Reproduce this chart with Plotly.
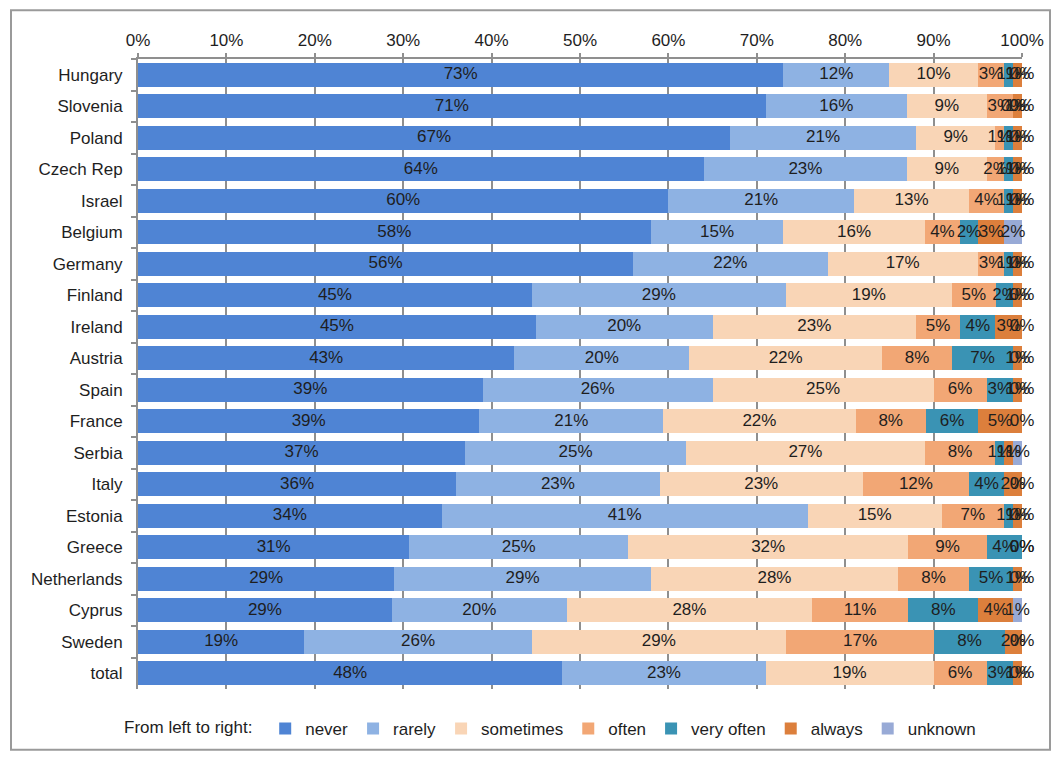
import plotly.graph_objects as go

countries = ["Hungary", "Slovenia", "Poland", "Czech Rep", "Israel", "Belgium",
             "Germany", "Finland", "Ireland", "Austria", "Spain", "France",
             "Serbia", "Italy", "Estonia", "Greece", "Netherlands", "Cyprus",
             "Sweden", "total"]

never      = [73, 71, 67, 64, 60, 58, 56, 45, 45, 43, 39, 39, 37, 36, 34, 31, 29, 29, 19, 48]
rarely     = [12, 16, 21, 23, 21, 15, 22, 29, 20, 20, 26, 21, 25, 23, 41, 25, 29, 20, 26, 23]
sometimes  = [10,  9,  9,  9, 13, 16, 17, 19, 23, 22, 25, 22, 27, 23, 15, 32, 28, 28, 29, 19]
often      = [ 3,  3,  1,  2,  4,  4,  3,  5,  5,  8,  6,  8,  8, 12,  7,  9,  8, 11, 17,  6]
very_often = [ 1,  0,  1,  1,  1,  2,  1,  2,  4,  7,  3,  6,  1,  4,  1,  4,  5,  8,  8,  3]
always     = [ 1,  1,  1,  1,  1,  3,  1,  1,  3,  1,  1,  5,  1,  2,  1,  0,  1,  4,  2,  1]
unknown    = [ 0,  0,  0,  0,  0,  2,  0,  0,  0,  0,  0,  0,  1,  0,  0,  0,  0,  1,  0,  0]

tick_vals = [0, 10, 20, 30, 40, 50, 60, 70, 80, 90, 100]
tick_text = [f"{v}%" for v in tick_vals]

series = [
    ("never", never, "#4F84D4"),
    ("rarely", rarely, "#8EB2E3"),
    ("sometimes", sometimes, "#F9D5B6"),
    ("often", often, "#F2A775"),
    ("very often", very_often, "#3A93B4"),
    ("always", always, "#DC7F3C"),
    ("unknown", unknown, "#98AAD6"),
]

FONT = "Liberation Sans, Arial, sans-serif"
FS = 17

fig = go.Figure()
for name, vals, color in series:
    fig.add_trace(go.Bar(
        y=countries, x=vals, name=name, orientation="h",
        marker=dict(color=color, line=dict(width=0)),
        hoverinfo="name+x",
    ))

# Segment labels, centred on each stacked piece (rows are shown as shares of their total)
lab_x, lab_y, lab_t = [], [], []
for i, country in enumerate(countries):
    row = [vals[i] for _, vals, _ in series]
    total = sum(row)
    cum = 0
    for v in row:
        lab_x.append((cum + v / 2) / total * 100)
        lab_y.append(country)
        lab_t.append(f"{v}%")
        cum += v

fig.add_trace(go.Scatter(
    x=lab_x, y=lab_y, text=lab_t, mode="text",
    textposition="middle center",
    textfont=dict(family=FONT, size=FS, color="#1e1e1e"),
    showlegend=False, hoverinfo="skip", cliponaxis=False,
))

L, R, T, B = 138, 36, 59, 68
W, H = 1058, 759
pw, ph = W - L - R, H - T - B
n = len(countries)

fig.update_layout(
    width=W, height=H,
    barmode="stack", barnorm="percent", bargap=0.24,
    margin=dict(l=L, r=R, t=T, b=B),
    paper_bgcolor="white", plot_bgcolor="white",
    font=dict(family=FONT, size=FS, color="#1e1e1e"),
    xaxis=dict(
        side="top", range=[0, 100], tickvals=tick_vals, ticktext=tick_text,
        showgrid=True, gridcolor="#8f8f8f", gridwidth=2,
        showline=True, linecolor="#8f8f8f", linewidth=2,
        ticks="outside", ticklen=4, tickcolor="#8f8f8f", tickwidth=2,
        zeroline=False, tickfont=dict(size=FS),
    ),
    yaxis=dict(
        range=[n - 0.5, -0.5], autorange=False, tickson="boundaries",
        categoryorder="array", categoryarray=countries,
        showline=True, linecolor="#8f8f8f", linewidth=2,
        ticks="outside", ticklen=5, tickcolor="#8f8f8f", tickwidth=2,
        ticklabelstandoff=10,
        showgrid=False, tickfont=dict(size=FS),
    ),
    legend=dict(
        orientation="h", x=(122 - L) / pw, xanchor="left",
        y=(T + ph - 731) / ph, yanchor="middle",
        title=dict(text="From left to right: ", side="left", font=dict(size=FS)),
        font=dict(size=FS), itemwidth=30, traceorder="normal",
        bgcolor="rgba(0,0,0,0)",
    ),
    showlegend=True,
    shapes=[dict(
        type="rect", xref="paper", yref="paper",
        x0=(11 - L) / pw, x1=(1050 - L) / pw,
        y0=(T + ph - 752) / ph, y1=(T + ph - 10) / ph,
        line=dict(color="#9a9a9a", width=2), layer="below",
    )],
)

fig.write_html("out.html")
